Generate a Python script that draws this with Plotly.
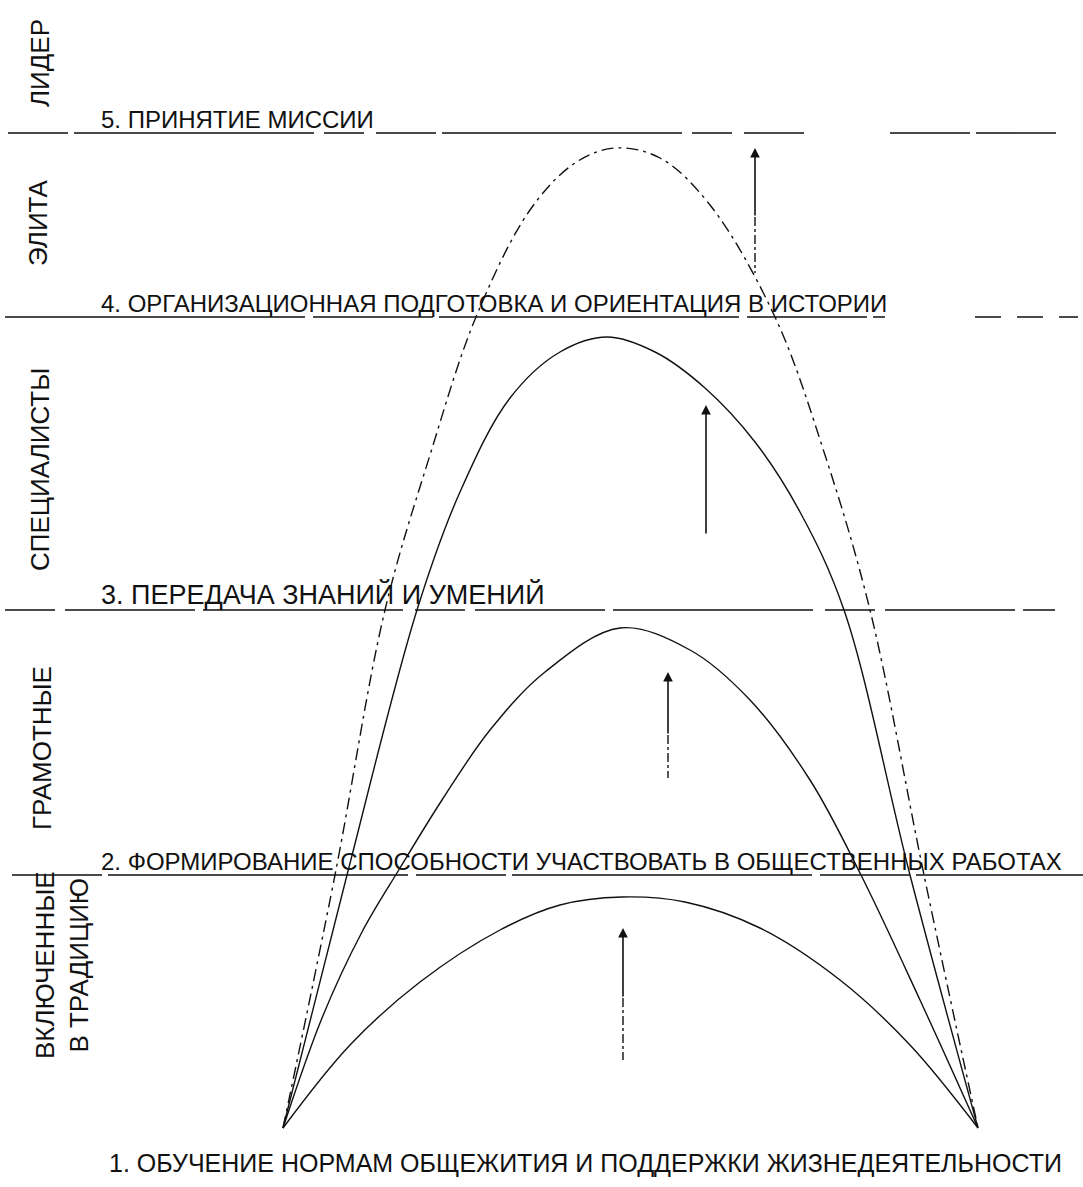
import plotly.graph_objects as go

# ---------------- data (pixel space of the scan) ----------------
band_names = ["ЛИДЕР", "ЭЛИТА", "СПЕЦИАЛИСТЫ", "ГРАМОТНЫЕ", "ВКЛЮЧЕННЫЕ<br>В ТРАДИЦИЮ"]
band_label_x = [40, 38, 40, 42, 62]
band_label_y = [63, 223, 470, 748, 965]

level_labels = [
    "5. ПРИНЯТИЕ МИССИИ",
    "4. ОРГАНИЗАЦИОННАЯ ПОДГОТОВКА И ОРИЕНТАЦИЯ В ИСТОРИИ",
    "3. ПЕРЕДАЧА ЗНАНИЙ И УМЕНИЙ",
    "2. ФОРМИРОВАНИЕ СПОСОБНОСТИ УЧАСТВОВАТЬ В ОБЩЕСТВЕННЫХ РАБОТАХ",
]
level_y = [133, 317, 610, 875]
level_x0 = [8, 5, 5, 12]
level_x1 = [806, 885, 1055, 1083]
level_tail_x0 = [890, 975, None, None]
level_tail_x1 = [1056, 1078, None, None]
base_label = "1. ОБУЧЕНИЕ НОРМАМ ОБЩЕЖИТИЯ И ПОДДЕРЖКИ ЖИЗНЕДЕЯТЕЛЬНОСТИ"

# arcs (x, y) points
arc1_x = [283, 350, 420, 500, 560, 622, 685, 760, 840, 910, 978]
arc1_y = [1128, 1045, 982, 930, 905, 897, 902, 928, 980, 1045, 1128]
arc2_x = [283, 322, 362, 400, 442, 490, 545, 620, 690, 750, 810, 861, 920, 978]
arc2_y = [1128, 1018, 932, 868, 800, 730, 672, 628, 650, 700, 780, 875, 1000, 1128]
arc3_x = [283, 347, 417, 460, 510, 560, 607, 655, 705, 755, 800, 844, 910, 978]
arc3_y = [1128, 875, 610, 492, 398, 352, 337, 352, 388, 442, 512, 610, 875, 1128]
arc4_x = [283, 335, 385, 430, 476, 530, 575, 615, 660, 710, 775, 825, 870, 924, 978]
arc4_y = [1128, 875, 610, 455, 317, 210, 163, 148, 158, 205, 317, 455, 610, 875, 1128]

# growth arrows: x, tip y, end of solid shaft, end of dashed tail
arrow_x = [623, 668, 706, 755]
arrow_tip = [928, 672, 405, 148]
arrow_solid_end = [998, 735, 535, 217]
arrow_tail_end = [1060, 778, 535, 273]

INK = "#111111"
FONT = "Liberation Sans, Arial, sans-serif"
label_sizes = [24, 24, 27, 24]

fig = go.Figure()

# level lines
level_dash = ["60px,6px,240px,10px,40px,12px", "300px,8px,120px,6px",
              "50px,10px,130px,8px,200px,12px", "90px,6px,300px,8px"]
for i in range(len(level_y)):
    fig.add_trace(go.Scatter(x=[level_x0[i], level_x1[i]], y=[level_y[i], level_y[i]],
                             mode="lines", line=dict(color=INK, width=1.6, dash=level_dash[i]),
                             hoverinfo="skip", showlegend=False))
    if level_tail_x0[i] is not None:
        fig.add_trace(go.Scatter(x=[level_tail_x0[i], level_tail_x1[i]], y=[level_y[i], level_y[i]],
                                 mode="lines",
                                 line=dict(color=INK, width=1.6, dash="80px,6px" if i == 0 else "26px,16px"),
                                 hoverinfo="skip", showlegend=False))

# arcs
arcs = [(arc1_x, arc1_y, "solid"), (arc2_x, arc2_y, "solid"),
        (arc3_x, arc3_y, "solid"), (arc4_x, arc4_y, "12px,5px,3px,5px")]
for ax_, ay_, dash in arcs:
    fig.add_trace(go.Scatter(x=ax_, y=ay_, mode="lines",
                             line=dict(color=INK, width=1.4, dash=dash, shape="spline", smoothing=1.0),
                             hoverinfo="skip", showlegend=False))

# arrows
for i in range(len(arrow_x)):
    if arrow_tail_end[i] > arrow_solid_end[i]:
        fig.add_trace(go.Scatter(x=[arrow_x[i], arrow_x[i]], y=[arrow_solid_end[i], arrow_tail_end[i]],
                                 mode="lines", line=dict(color=INK, width=1.4, dash="dashdot"),
                                 hoverinfo="skip", showlegend=False))
    fig.add_annotation(x=arrow_x[i], y=arrow_tip[i], ax=arrow_x[i], ay=arrow_solid_end[i],
                       xref="x", yref="y", axref="x", ayref="y", text="",
                       showarrow=True, arrowhead=2, arrowsize=1.2, arrowwidth=1.6, arrowcolor=INK)

# level labels
for i in range(len(level_labels)):
    fig.add_annotation(x=99, y=level_y[i] + 2, xref="x", yref="y", text=level_labels[i],
                       showarrow=False, xanchor="left", yanchor="bottom",
                       font=dict(family=FONT, size=label_sizes[i], color=INK))
fig.add_annotation(x=107, y=1163, xref="x", yref="y", text=base_label,
                   showarrow=False, xanchor="left", yanchor="middle",
                   font=dict(family=FONT, size=25, color=INK))

# band labels (vertical)
for i in range(len(band_names)):
    fig.add_annotation(x=band_label_x[i], y=band_label_y[i], xref="x", yref="y",
                       text=band_names[i], textangle=-90, showarrow=False,
                       xanchor="center", yanchor="middle",
                       font=dict(family=FONT, size=26, color=INK))

fig.update_layout(
    width=1083, height=1187, margin=dict(l=0, r=0, t=0, b=0),
    paper_bgcolor="white", plot_bgcolor="white",
    xaxis=dict(range=[0, 1083], visible=False, fixedrange=True),
    yaxis=dict(range=[1187, 0], visible=False, fixedrange=True),
)

fig.write_html("out.html", config={"displayModeBar": False},
               post_script="document.body.style.margin='0';")
